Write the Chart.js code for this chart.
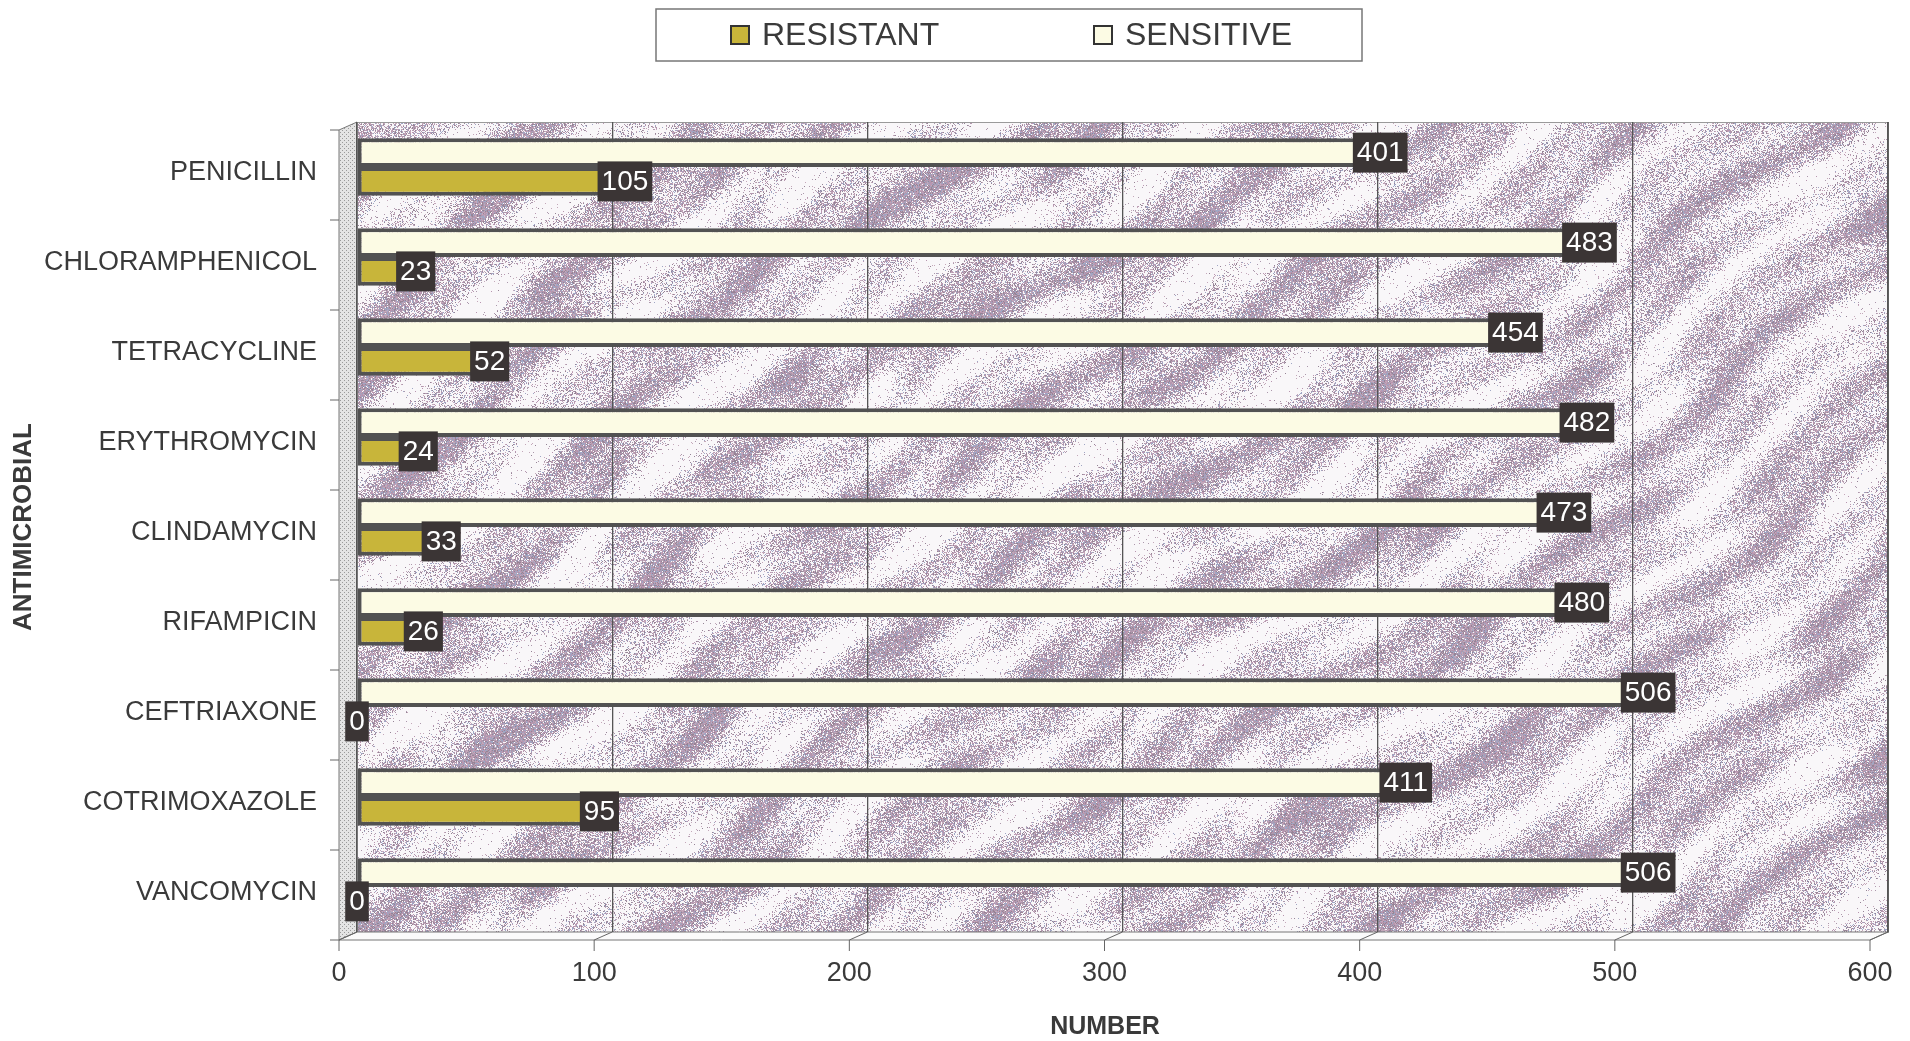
<!DOCTYPE html>
<html>
<head>
<meta charset="utf-8">
<script src="https://cdn.jsdelivr.net/npm/chart.js@4.4.0/dist/chart.umd.min.js"></script>
<style>
  html, body { margin: 0; padding: 0; background: #ffffff; }
  #wrap { width: 1910px; height: 1041px; position: relative; }
</style>
</head>
<body>
<div id="wrap"><canvas id="c"></canvas></div>
<script>
// Antimicrobial susceptibility counts
const categories = ['PENICILLIN', 'CHLORAMPHENICOL', 'TETRACYCLINE', 'ERYTHROMYCIN',
  'CLINDAMYCIN', 'RIFAMPICIN', 'CEFTRIAXONE', 'COTRIMOXAZOLE', 'VANCOMYCIN'];
const resistant = [105, 23, 52, 24, 33, 26, 0, 95, 0];
const sensitive = [401, 483, 454, 482, 473, 480, 506, 411, 506];
const xTicks = [0, 100, 200, 300, 400, 500, 600];
const legendOrder = ['RESISTANT', 'SENSITIVE'];
const xTitle = 'NUMBER';

const FONT = '"Liberation Sans", Arial, Helvetica, sans-serif';
const INK = '#3a3a3a';
const DX = 18, DY = 8;            // depth of the walls / floor

// integer hash used for the speckled wall texture
function hash(x, y, s) {
  let h = (x * 374761393 + y * 668265263 + s * 2147483647) | 0;
  h = Math.imul(h ^ (h >>> 13), 1274126177);
  h = h ^ (h >>> 16);
  return (h >>> 0) / 4294967296;
}

// speckled lavender wall with blotchy diagonal streaks
let wallCache = null;
function buildWall(w, h) {
  if (wallCache && wallCache.width === w && wallCache.height === h) return wallCache;
  const c = document.createElement('canvas');
  c.width = w; c.height = h;
  const g = c.getContext('2d');
  const img = g.createImageData(w, h);
  const d = img.data;
  const cols = [[184, 150, 176], [172, 152, 172], [160, 166, 196], [196, 168, 186], [150, 132, 150]];
  for (let y = 0; y < h; y++) {
    for (let x = 0; x < w; x++) {
      const u = 0.6 * x + 0.8 * y;
      const v = 0.8 * x - 0.6 * y;
      const f = Math.sin(u * 0.05 + 2.4 * Math.sin(v * 0.007))
        + 0.7 * Math.sin(u * 0.13 + 1.6 * Math.sin(v * 0.019 + 1.0))
        + 0.6 * Math.sin(v * 0.024 + u * 0.031 + 2.0) * Math.sin(u * 0.021 - v * 0.009)
        + 0.45 * Math.sin(x * 0.043 + y * 0.029) * Math.sin(y * 0.051 - x * 0.012);
      const dens = Math.min(0.93, Math.max(0.03, 0.4 + 0.3 * f));
      const i = (y * w + x) * 4;
      if (hash(x, y, 1) < dens) {
        const col = cols[Math.floor(hash(x, y, 2) * cols.length)];
        d[i] = col[0]; d[i + 1] = col[1]; d[i + 2] = col[2];
      } else {
        d[i] = 249; d[i + 1] = 247; d[i + 2] = 249;
      }
      d[i + 3] = 255;
    }
  }
  g.putImageData(img, 0, 0);
  wallCache = c;
  return c;
}

function hatchPattern(ctx) {
  const t = document.createElement('canvas');
  t.width = 4; t.height = 4;
  const g = t.getContext('2d');
  g.fillStyle = '#e4e4e4'; g.fillRect(0, 0, 4, 4);
  g.fillStyle = '#9a9a9a'; g.fillRect(0, 0, 1, 1); g.fillRect(2, 2, 1, 1);
  return ctx.createPattern(t, 'repeat');
}

// walls and floor behind the bars
const wallsPlugin = {
  id: 'walls',
  beforeDraw(chart) {
    const { ctx, chartArea: a, scales: { x } } = chart;
    const w = Math.round(a.right - a.left), h = Math.round(a.bottom - a.top);
    ctx.save();
    ctx.drawImage(buildWall(w, h), Math.round(a.left), Math.round(a.top));
    ctx.strokeStyle = '#9a9a9a';
    ctx.lineWidth = 1;
    ctx.strokeRect(a.left + 0.5, a.top + 0.5, a.right - a.left, a.bottom - a.top);
    ctx.strokeStyle = '#555';
    ctx.lineWidth = 1.5;
    ctx.beginPath(); ctx.moveTo(a.right, a.top); ctx.lineTo(a.right, a.bottom); ctx.stroke();
    // left wall
    ctx.fillStyle = hatchPattern(ctx);
    ctx.beginPath();
    ctx.moveTo(a.left, a.top);
    ctx.lineTo(a.left - DX, a.top + DY);
    ctx.lineTo(a.left - DX, a.bottom + DY);
    ctx.lineTo(a.left, a.bottom);
    ctx.closePath();
    ctx.fill();
    ctx.strokeStyle = '#777';
    ctx.lineWidth = 1;
    ctx.stroke();
    // floor
    ctx.fillStyle = '#fbfbfb';
    ctx.beginPath();
    ctx.moveTo(a.left, a.bottom);
    ctx.lineTo(a.right, a.bottom);
    ctx.lineTo(a.right - DX, a.bottom + DY);
    ctx.lineTo(a.left - DX, a.bottom + DY);
    ctx.closePath();
    ctx.fill();
    ctx.strokeStyle = '#777';
    ctx.stroke();
    // floor tick connectors and tick marks
    ctx.strokeStyle = '#666';
    for (const v of xTicks) {
      const px = x.getPixelForValue(v);
      ctx.beginPath();
      ctx.moveTo(px, a.bottom);
      ctx.lineTo(px - DX, a.bottom + DY);
      ctx.lineTo(px - DX, a.bottom + DY + 11);
      ctx.stroke();
    }
    // category separators on the left wall
    const step = (a.bottom - a.top) / categories.length;
    for (let i = 0; i <= categories.length; i++) {
      const py = a.top + DY + i * step;
      ctx.beginPath();
      ctx.moveTo(a.left - DX - 9, py);
      ctx.lineTo(a.left - DX, py);
      ctx.stroke();
    }
    ctx.restore();
  }
};

// dark value boxes at the end of each bar
const valueBoxes = {
  id: 'valueBoxes',
  afterDatasetsDraw(chart) {
    const { ctx } = chart;
    ctx.save();
    ctx.font = '28px ' + FONT;
    ctx.textAlign = 'center';
    ctx.textBaseline = 'middle';
    chart.data.datasets.forEach((ds, di) => {
      chart.getDatasetMeta(di).data.forEach((el, i) => {
        const txt = String(ds.data[i]);
        const w = ctx.measureText(txt).width + 8;
        const h = 40;
        ctx.fillStyle = '#3b3535';
        ctx.fillRect(el.x - w / 2, el.y - h / 2, w, h);
        ctx.fillStyle = '#ffffff';
        ctx.fillText(txt, el.x, el.y + 1);
      });
    });
    ctx.restore();
  }
};

// boxed legend above the plot, and the horizontal axis title
const boxedLegend = {
  id: 'boxedLegend',
  afterDraw(chart) {
    const { ctx } = chart;
    const box = { l: 656, t: 9, r: 1362, b: 61 };
    const itemX = [731, 1094];
    ctx.save();
    ctx.fillStyle = '#ffffff';
    ctx.fillRect(box.l, box.t, box.r - box.l, box.b - box.t);
    ctx.strokeStyle = '#777';
    ctx.lineWidth = 1.5;
    ctx.strokeRect(box.l, box.t, box.r - box.l, box.b - box.t);
    ctx.font = '32px ' + FONT;
    ctx.textBaseline = 'middle';
    ctx.textAlign = 'left';
    const cy = (box.t + box.b) / 2;
    legendOrder.forEach((name, k) => {
      const ds = chart.data.datasets.find(d => d.label === name);
      const x0 = itemX[k];
      ctx.fillStyle = ds.backgroundColor;
      ctx.fillRect(x0, cy - 9, 18, 18);
      ctx.strokeStyle = '#333';
      ctx.lineWidth = 2;
      ctx.strokeRect(x0, cy - 9, 18, 18);
      ctx.fillStyle = INK;
      ctx.fillText(name, x0 + 31, cy + 1);
    });
    // axis title under the tick labels
    ctx.font = 'bold 25px ' + FONT;
    ctx.textAlign = 'center';
    ctx.fillText(xTitle, 1105, 1027);
    ctx.restore();
  }
};

new Chart(document.getElementById('c'), {
  type: 'bar',
  data: {
    labels: categories,
    datasets: [
      { label: 'SENSITIVE', data: sensitive, backgroundColor: '#fcfbe4',
        borderColor: '#525252', borderWidth: 4, borderSkipped: false },
      { label: 'RESISTANT', data: resistant, backgroundColor: '#c8b53a',
        borderColor: '#525252', borderWidth: 4, borderSkipped: false }
    ]
  },
  options: {
    indexAxis: 'y',
    responsive: true,
    maintainAspectRatio: false,
    animation: false,
    layout: { padding: { top: 122, right: 22, left: 0, bottom: 0 } },
    datasets: { bar: { categoryPercentage: 0.64, barPercentage: 1.0 } },
    plugins: {
      legend: { display: false },
      tooltip: { enabled: false }
    },
    scales: {
      x: {
        type: 'linear',
        min: 0, max: 600,
        afterFit(s) { s.height = 109; s.paddingLeft = 0; s.paddingRight = 0; },
        afterBuildTicks(s) { s.ticks = xTicks.map(v => ({ value: v })); },
        grid: { color: '#555', lineWidth: 1.3, drawTicks: false },
        border: { display: false },
        ticks: {
          font: { family: FONT, size: 27 }, color: INK,
          labelOffset: -DX, padding: 25, maxRotation: 0
        }
      },
      y: {
        afterFit(s) { s.width = 357; s.paddingTop = 0; s.paddingBottom = 0; },
        grid: { display: false, drawTicks: false },
        border: { display: false },
        ticks: { font: { family: FONT, size: 27 }, color: INK, padding: 40, labelOffset: 6 },
        title: {
          display: true, text: 'ANTIMICROBIAL', color: INK,
          font: { family: FONT, size: 26, weight: 'bold' },
          padding: { top: 8, bottom: 0 }
        }
      }
    }
  },
  plugins: [wallsPlugin, valueBoxes, boxedLegend]
});
</script>
</body>
</html>
